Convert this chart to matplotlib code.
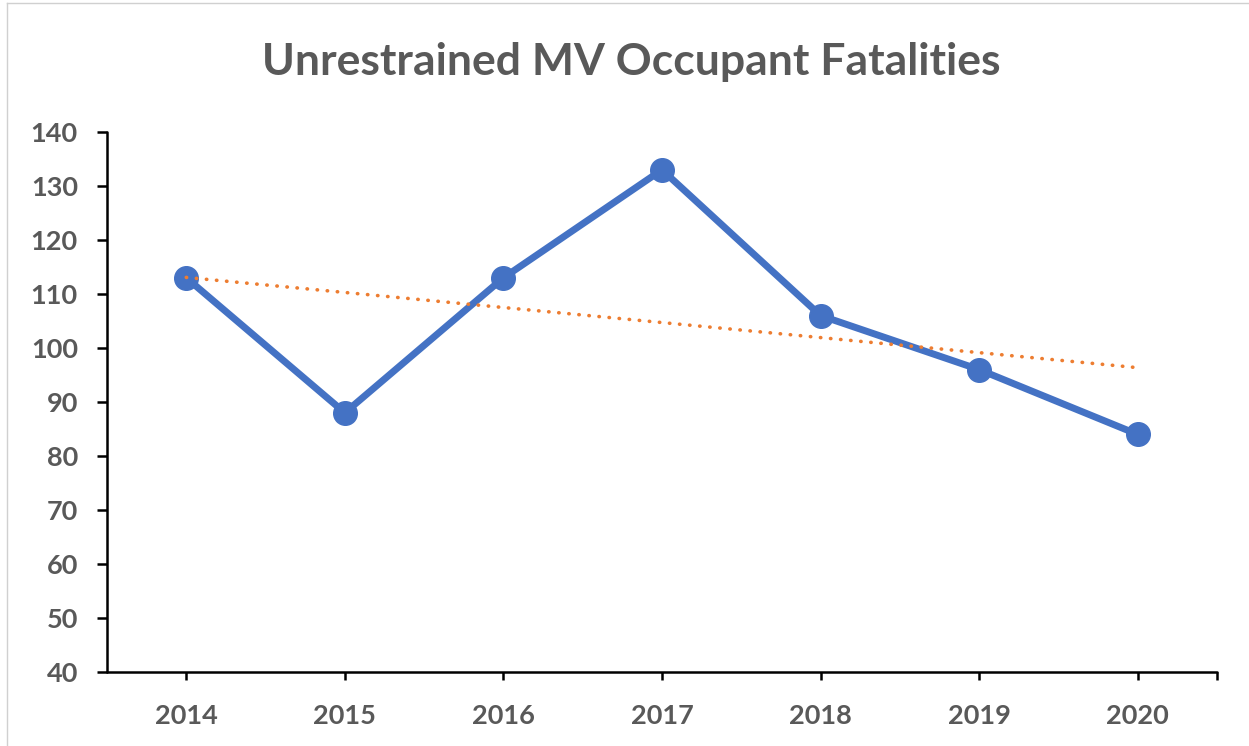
import numpy as np
import matplotlib.pyplot as plt
from matplotlib.lines import Line2D

years = ["2014", "2015", "2016", "2017", "2018", "2019", "2020"]
fatalities = [113, 88, 113, 133, 106, 96, 84]
y_ticks = [40, 50, 60, 70, 80, 90, 100, 110, 120, 130, 140]

plt.rcParams["font.family"] = ["Lato", "DejaVu Sans"]

W, H = 1249, 746
fig = plt.figure(figsize=(W / 100, H / 100), dpi=100)
ax = fig.add_axes([107 / W, 1 - 672 / H, (1217 - 107) / W, (672 - 132) / H])

x = np.arange(len(years))
ax.plot(x, fatalities, color="#4472C4", lw=5, marker="o", ms=17,
        solid_capstyle="round", solid_joinstyle="round", zorder=3)

# linear trendline
k, m = np.polyfit(x, fatalities, 1)
ax.plot(x, k * x + m, color="#ED7D31", lw=2.6, linestyle=(0, (0.1, 2.7)),
        dash_capstyle="round", zorder=4)

ax.set_xlim(-0.5, len(years) - 0.5)
ax.set_ylim(40, 140)
ax.set_xticks(x)
ax.set_xticklabels(years)
ax.set_xticks([len(years) - 0.5], minor=True)
ax.set_yticks(y_ticks)

gray = "#595959"
for s in ["top", "right"]:
    ax.spines[s].set_visible(False)
for s in ["left", "bottom"]:
    ax.spines[s].set_linewidth(1.8)
    ax.spines[s].set_capstyle("round")
ax.tick_params(axis="y", length=7, width=1.8, pad=14, labelsize=19.5,
               labelcolor=gray)
ax.tick_params(axis="x", which="both", length=6, width=1.8, pad=17,
               labelsize=19.5, labelcolor=gray)
for lab in ax.get_xticklabels() + ax.get_yticklabels():
    lab.set_fontweight("bold")

fig.text(631 / W, 1 - 62 / H, "Unrestrained MV Occupant Fatalities",
         ha="center", va="center", fontsize=32, fontweight="bold", color=gray)

# outer chart border (top and left visible)
fig.add_artist(Line2D([7 / W, 7 / W], [0, 1 - 3 / H], color="#D0D0D0", lw=1,
                      transform=fig.transFigure))
fig.add_artist(Line2D([7 / W, 1], [1 - 3 / H, 1 - 3 / H], color="#D0D0D0", lw=1,
                      transform=fig.transFigure))

fig.savefig("out.png", dpi=100)
